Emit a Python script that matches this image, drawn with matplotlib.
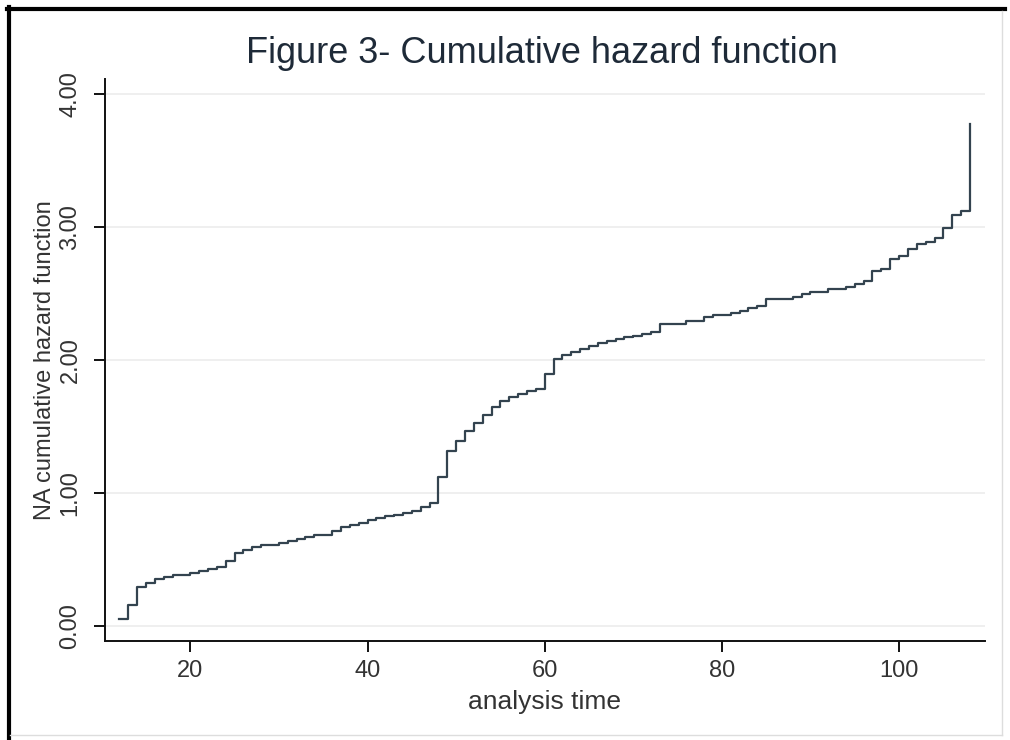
import numpy as np
import matplotlib
matplotlib.use("Agg")
import matplotlib.pyplot as plt
from matplotlib.lines import Line2D

plt.rcParams['font.family'] = ['Liberation Sans', 'DejaVu Sans']

# Nelson-Aalen cumulative hazard (value after each step)
times = [12, 13, 14, 15, 16, 17, 18, 20, 21, 22, 23, 24, 25, 26, 27, 28,
         30, 31, 32, 33, 34, 36, 37, 38, 39, 40, 41, 42, 43, 44, 45, 46,
         47, 48, 49, 50, 51, 52, 53, 54, 55, 56, 57, 58, 59, 60, 61, 62,
         63, 64, 65, 66, 67, 68, 69, 70, 71, 72, 73, 76, 78, 79, 81, 82,
         83, 84, 85, 88, 89, 90, 92, 94, 95, 96, 97, 98, 99, 100, 101,
         102, 103, 104, 105, 106, 107, 108]
hazard = [0.05, 0.155, 0.29, 0.325, 0.35, 0.37, 0.38, 0.40, 0.415, 0.43,
          0.443, 0.485, 0.548, 0.573, 0.593, 0.608, 0.623, 0.636, 0.65,
          0.666, 0.683, 0.713, 0.743, 0.76, 0.775, 0.793, 0.808, 0.823,
          0.835, 0.85, 0.865, 0.89, 0.921, 1.12, 1.316, 1.39, 1.463, 1.526,
          1.583, 1.646, 1.689, 1.72, 1.746, 1.766, 1.784, 1.891, 2.006,
          2.036, 2.059, 2.081, 2.106, 2.126, 2.141, 2.156, 2.171, 2.184,
          2.196, 2.21, 2.27, 2.293, 2.32, 2.34, 2.355, 2.37, 2.388, 2.405,
          2.46, 2.476, 2.496, 2.509, 2.534, 2.55, 2.57, 2.595, 2.666, 2.683,
          2.758, 2.784, 2.834, 2.871, 2.891, 2.917, 2.997, 3.092, 3.122, 3.777]

xticks = [20, 40, 60, 80, 100]
yticks = [0, 1, 2, 3, 4]
ytick_labels = ["0.00", "1.00", "2.00", "3.00", "4.00"]

fig = plt.figure(figsize=(10.1, 7.4), dpi=100, facecolor='white')
ax = fig.add_axes([0.104, 0.1338, 0.871, 0.7595])

ax.step(times, hazard, where='post', color='#33434f', lw=1.6)

ax.set_xlim(10.375, 109.67)
ax.set_ylim(-0.115, 4.115)
ax.set_xticks(xticks)
ax.set_yticks(yticks)
ax.set_yticklabels(ytick_labels, rotation=90, va='center')

ax.grid(axis='y', color='#ececec', lw=1.2)
ax.set_axisbelow(True)
for s in ['top', 'right']:
    ax.spines[s].set_visible(False)
for s in ['left', 'bottom']:
    ax.spines[s].set_color('#111111')
    ax.spines[s].set_linewidth(1.4)

ax.tick_params(axis='both', direction='out', length=8, width=1.4,
               colors='#111111', labelcolor='#333333', labelsize=17)
ax.tick_params(axis='y', pad=9)
ax.tick_params(axis='x', pad=6)

ax.set_xlabel("analysis time", fontsize=19, color='#333333')
ax.set_ylabel("NA cumulative hazard function", fontsize=17, color='#333333')
ax.xaxis.set_label_coords(0.5, -0.088)
ax.yaxis.set_label_coords(-0.056, 0.5)

fig.text(0.537, 0.928, "Figure 3- Cumulative hazard function", fontsize=26,
         color='#1e2a38', ha='center', va='center')

# frame around the exported image
fig.add_artist(Line2D([0.009, 0.009], [0, 0.99], color='black', lw=3,
                      transform=fig.transFigure))
fig.add_artist(Line2D([0.007, 0.995], [0.988, 0.988], color='black', lw=3,
                      transform=fig.transFigure))
fig.add_artist(Line2D([0.992, 0.992], [0.007, 0.985], color='#dddddd', lw=1,
                      transform=fig.transFigure))
fig.add_artist(Line2D([0.01, 0.992], [0.007, 0.007], color='#dddddd', lw=1,
                      transform=fig.transFigure))

fig.savefig("out.png", dpi=100, facecolor='white')
